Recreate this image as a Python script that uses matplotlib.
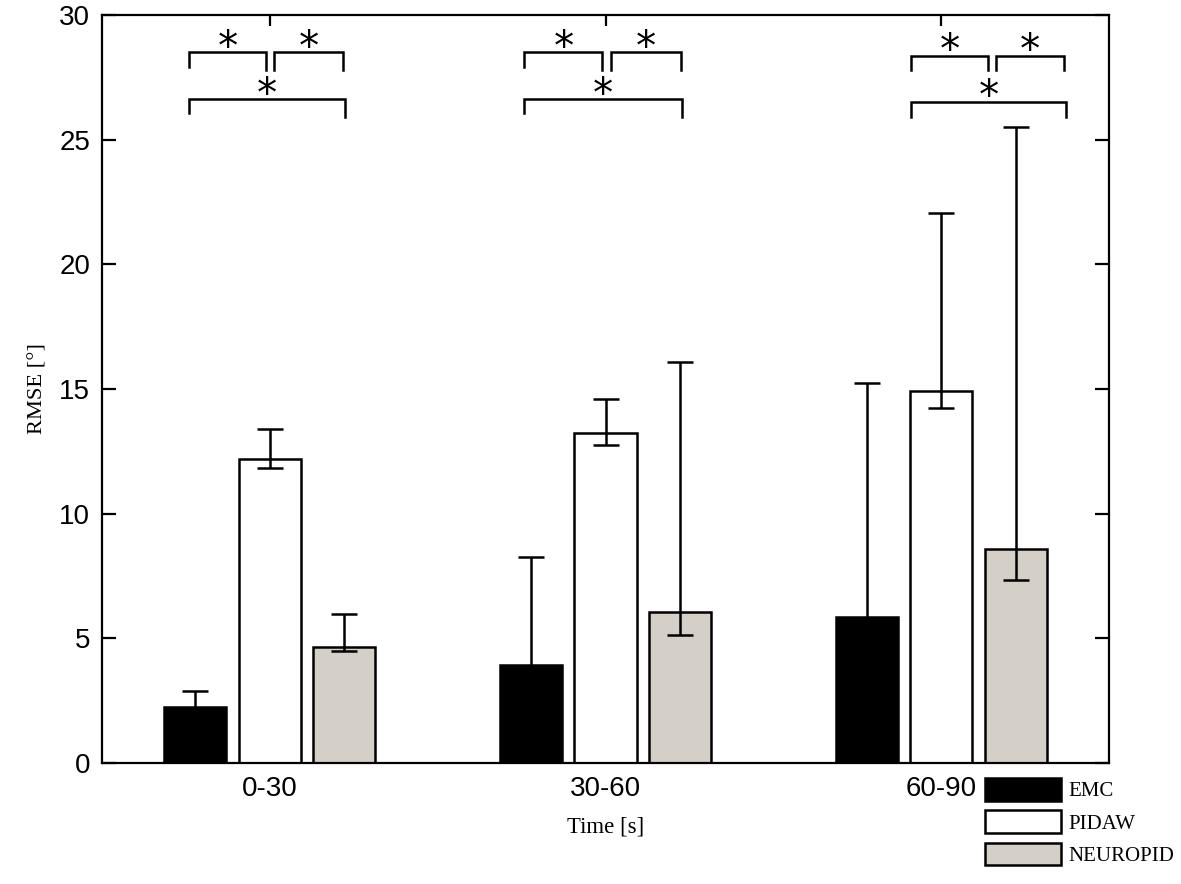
import matplotlib
matplotlib.use("Agg")
import matplotlib.pyplot as plt
from matplotlib.patches import Patch
import numpy as np

# ---------------- data ----------------
categories = ["0-30", "30-60", "60-90"]
series_names = ["EMC", "PIDAW", "NEUROPID"]
series_colors = ["#000000", "#FFFFFF", "#D4D0C8"]

emc_mean = [2.26, 3.93, 5.87]
emc_upper = [2.89, 8.28, 15.25]
emc_lower = [1.95, 3.45, 5.30]

pidaw_mean = [12.19, 13.22, 14.90]
pidaw_upper = [13.40, 14.60, 22.05]
pidaw_lower = [11.82, 12.74, 14.25]

neuro_mean = [4.65, 6.04, 8.57]
neuro_upper = [5.96, 16.10, 25.50]
neuro_lower = [4.49, 5.12, 7.35]

yticks = [0, 5, 10, 15, 20, 25, 30]

# significance brackets per group: (x0_offset, x1_offset, y, leg0, leg1)
sig_brackets = [
    [(-0.242, -0.011, 28.51, 27.92, 27.80), (0.013, 0.219, 28.51, 27.80, 27.80),
     (-0.242, 0.224, 26.63, 26.08, 25.92)],
    [(-0.242, -0.009, 28.51, 27.92, 27.80), (0.015, 0.224, 28.51, 27.80, 27.80),
     (-0.242, 0.227, 26.63, 26.08, 25.92)],
    [(-0.089, 0.140, 28.36, 27.80, 27.80), (0.164, 0.367, 28.36, 27.80, 27.80),
     (-0.089, 0.373, 26.53, 25.92, 25.92)],
]

means = [emc_mean, pidaw_mean, neuro_mean]
uppers = [emc_upper, pidaw_upper, neuro_upper]
lowers = [emc_lower, pidaw_lower, neuro_lower]

# ---------------- figure ----------------
fig = plt.figure(figsize=(11.81, 8.84), dpi=100)
ax = fig.add_axes([102 / 1181, 1 - 763 / 884, (1109 - 102) / 1181, (763 - 15) / 884])

x = np.arange(1, len(categories) + 1)
offset = 0.2222
width = 0.185
LW = 1.8

for i, (m, up, lo, c) in enumerate(zip(means, uppers, lowers, series_colors)):
    xs = x + (i - 1) * offset
    ax.bar(xs, m, width=width, color=c, edgecolor="black", linewidth=LW, zorder=1)
    m_arr = np.array(m)
    yerr = [m_arr - np.array(lo), np.array(up) - m_arr]
    ax.errorbar(xs, m_arr, yerr=yerr, fmt="none", ecolor="black",
                elinewidth=LW, capsize=9.7, capthick=LW, zorder=3)

# significance brackets and stars
for gi, group in enumerate(sig_brackets):
    cx = x[gi]
    for (a, b, y, l0, l1) in group:
        ax.plot([cx + a, cx + a, cx + b, cx + b], [l0, y, y, l1],
                color="black", linewidth=LW, solid_joinstyle="miter", zorder=3,
                clip_on=False)
        ax.text(cx + (a + b) / 2, y - 0.30, "*", ha="center", va="baseline",
                fontsize=29, family="DejaVu Sans", color="black")

ax.set_xlim(0.5, 3.5)
ax.set_ylim(0, 30)
ax.set_xticks(x)
ax.set_xticklabels(categories)
ax.set_yticks(yticks)
ax.set_axisbelow(True)

for s in ax.spines.values():
    s.set_linewidth(1.6)

ax.tick_params(axis="x", direction="in", top=True, bottom=True, length=8,
               width=1.6, pad=9, labelsize=20)
ax.tick_params(axis="y", direction="in", left=True, right=True, length=10,
               width=1.6, pad=8.6, labelsize=20)
for lab in ax.get_xticklabels() + ax.get_yticklabels():
    lab.set_family("Liberation Sans")

ax.set_xlabel("Time [s]", family="Liberation Serif", fontsize=16.4)
ax.xaxis.set_label_coords(0.5, (763 - 817) / 748)
ax.set_ylabel("RMSE [°]", family="Liberation Serif", fontsize=16.2)
ax.yaxis.set_label_coords((48 - 102) / 1007, 0.5)

handles = [Patch(facecolor=c, edgecolor="black", linewidth=LW) for c in series_colors]
fig.legend(handles, series_names, loc="upper left",
           bbox_to_anchor=(985 / 1181, 1 - 778 / 884), frameon=False,
           borderpad=0, borderaxespad=0, handlelength=3.65, handleheight=1.3,
           labelspacing=0.43, handletextpad=0.34,
           prop={"family": "Liberation Serif", "size": 15})

fig.savefig("out.png", dpi=100)
